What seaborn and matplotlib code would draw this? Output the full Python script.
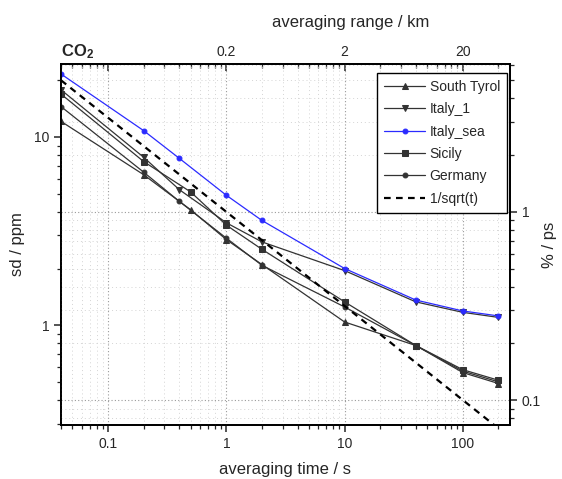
import matplotlib
matplotlib.use('Agg')
import matplotlib.pyplot as plt
import seaborn as sns
import pandas as pd
from matplotlib.ticker import LogLocator, NullFormatter, FixedLocator, FixedFormatter

# averaging time / s
time_a = [0.04, 0.2, 0.4, 1, 2, 10, 40, 100, 200]
time_b = [0.04, 0.2, 0.5, 1, 2, 10, 40, 100, 200]

# sd / ppm
south_tyrol = [12.1, 6.3, 4.1, 2.85, 2.1, 1.04, 0.78, 0.56, 0.49]
italy_1 = [17.8, 7.8, 5.25, 3.5, 2.77, 1.95, 1.33, 1.17, 1.10]
italy_sea = [21.6, 10.8, 7.7, 4.9, 3.6, 2.0, 1.36, 1.19, 1.12]
sicily = [16.9, 7.4, 5.1, 3.4, 2.53, 1.33, 0.78, 0.58, 0.51]
germany = [14.5, 6.5, 4.55, 2.9, 2.08, 1.25, 0.78, 0.57, 0.50]

# reference slope line
ref_time = [0.04, 250]
ref_sd = [20.0, 0.253]

series = [
    ("South Tyrol", time_b, south_tyrol, "^", "#333333"),
    ("Italy_1", time_a, italy_1, "v", "#333333"),
    ("Italy_sea", time_a, italy_sea, "o", "#2b2bff"),
    ("Sicily", time_b, sicily, "s", "#333333"),
    ("Germany", time_a, germany, "o", "#333333"),
]

sns.set_style("ticks")
plt.rcParams['font.family'] = ['Liberation Sans', 'DejaVu Sans']
plt.rcParams['mathtext.fontset'] = 'custom'
plt.rcParams['mathtext.rm'] = 'Liberation Sans'
plt.rcParams['mathtext.bf'] = 'Liberation Sans:bold'

fig = plt.figure(figsize=(5.62, 4.79), dpi=100)
ax = fig.add_axes([0.1085, 0.1127, 0.7989, 0.7537])
ax2 = ax.twinx()

ylo, yhi = 0.295, 24.4
for name, t, sd, mk, col in series:
    df = pd.DataFrame({"t": t, "sd": sd})
    ms = 3.5 if name in ("Germany", "Italy_sea") else 4.2
    sns.lineplot(data=df, x="t", y="sd", ax=ax, color=col, lw=0.9, marker=mk,
                 markersize=ms, markeredgecolor=col, label=name, sort=False)

ref = pd.DataFrame({"t": ref_time, "sd": ref_sd})
sns.lineplot(data=ref, x="t", y="sd", ax=ax, color="black", lw=1.6,
             linestyle=(0, (3, 2.4)), label="1/sqrt(t)")

ax.set_xscale("log")
ax.set_yscale("log")
ax.set_xlim(0.04, 250)
ax.set_ylim(ylo, yhi)

ax2.set_yscale("log")
ax2.set_ylim(ylo / 4, yhi / 4)

ax.set_zorder(ax2.get_zorder() + 1)
ax.patch.set_visible(False)

# grid: vertical from main axis, horizontal from % axis
ax.grid(axis="x", which="major", ls=(0, (1, 2)), color="#9a9a9a", lw=0.8)
ax.grid(axis="x", which="minor", ls=(0, (1, 3)), color="#d4d4d4", lw=0.7)
ax.grid(axis="y", which="both", visible=False)
ax2.grid(axis="y", which="major", ls=(0, (1, 2)), color="#9a9a9a", lw=0.8)
ax2.grid(axis="y", which="minor", ls=(0, (1, 3)), color="#d4d4d4", lw=0.7)

ax.xaxis.set_major_locator(FixedLocator([0.1, 1, 10, 100]))
ax.xaxis.set_major_formatter(FixedFormatter(["0.1", "1", "10", "100"]))
ax.xaxis.set_minor_locator(LogLocator(base=10, subs=range(2, 10), numticks=20))
ax.xaxis.set_minor_formatter(NullFormatter())
ax.yaxis.set_major_locator(FixedLocator([1, 10]))
ax.yaxis.set_major_formatter(FixedFormatter(["1", "10"]))
ax.yaxis.set_minor_locator(LogLocator(base=10, subs=range(2, 10), numticks=20))
ax.yaxis.set_minor_formatter(NullFormatter())
ax2.yaxis.set_major_locator(FixedLocator([0.1, 1]))
ax2.yaxis.set_major_formatter(FixedFormatter(["0.1", "1"]))
ax2.yaxis.set_minor_locator(LogLocator(base=10, subs=range(2, 10), numticks=20))
ax2.yaxis.set_minor_formatter(NullFormatter())

for a in (ax, ax2):
    a.tick_params(which="major", length=5, width=1.1, direction="out", labelsize=10)
    a.tick_params(which="minor", length=3, width=0.9, direction="out")
    for s in a.spines.values():
        s.set_linewidth(1.3)
        s.set_color("black")
        s.set_visible(True)

top = ax.secondary_xaxis("top")
top.xaxis.set_major_locator(FixedLocator([0.1, 1, 10, 100]))
top.xaxis.set_major_formatter(FixedFormatter(["", "0.2", "2", "20"]))
top.xaxis.set_minor_locator(LogLocator(base=10, subs=range(2, 10), numticks=20))
top.xaxis.set_minor_formatter(NullFormatter())
top.tick_params(which="major", length=5, width=1.1, direction="in", labelsize=10)
top.tick_params(which="minor", length=3, width=0.9, direction="in")
top.spines["top"].set_linewidth(1.3)
top.set_xlabel("averaging range / km", fontsize=12, x=0.646, labelpad=13)

ax.set_xlabel("averaging time / s", fontsize=12, labelpad=8)
ax.set_ylabel("sd / ppm", fontsize=12, labelpad=6)
ax2.set_ylabel("% / ps", fontsize=12, rotation=90, labelpad=1)

fig.text(0.1085, 0.892, r"$\mathbf{CO_2}$", fontsize=12, ha="left", va="center")

leg = ax.legend(loc="upper right", bbox_to_anchor=(0.9933, 0.975), fontsize=10,
                frameon=True, fancybox=False, edgecolor="black", framealpha=1,
                handlelength=3.0, handletextpad=0.3, labelspacing=0.6,
                borderpad=0.5, borderaxespad=0.0)
leg.get_frame().set_linewidth(1.0)

plt.savefig("out.png", dpi=100)
plt.close()
